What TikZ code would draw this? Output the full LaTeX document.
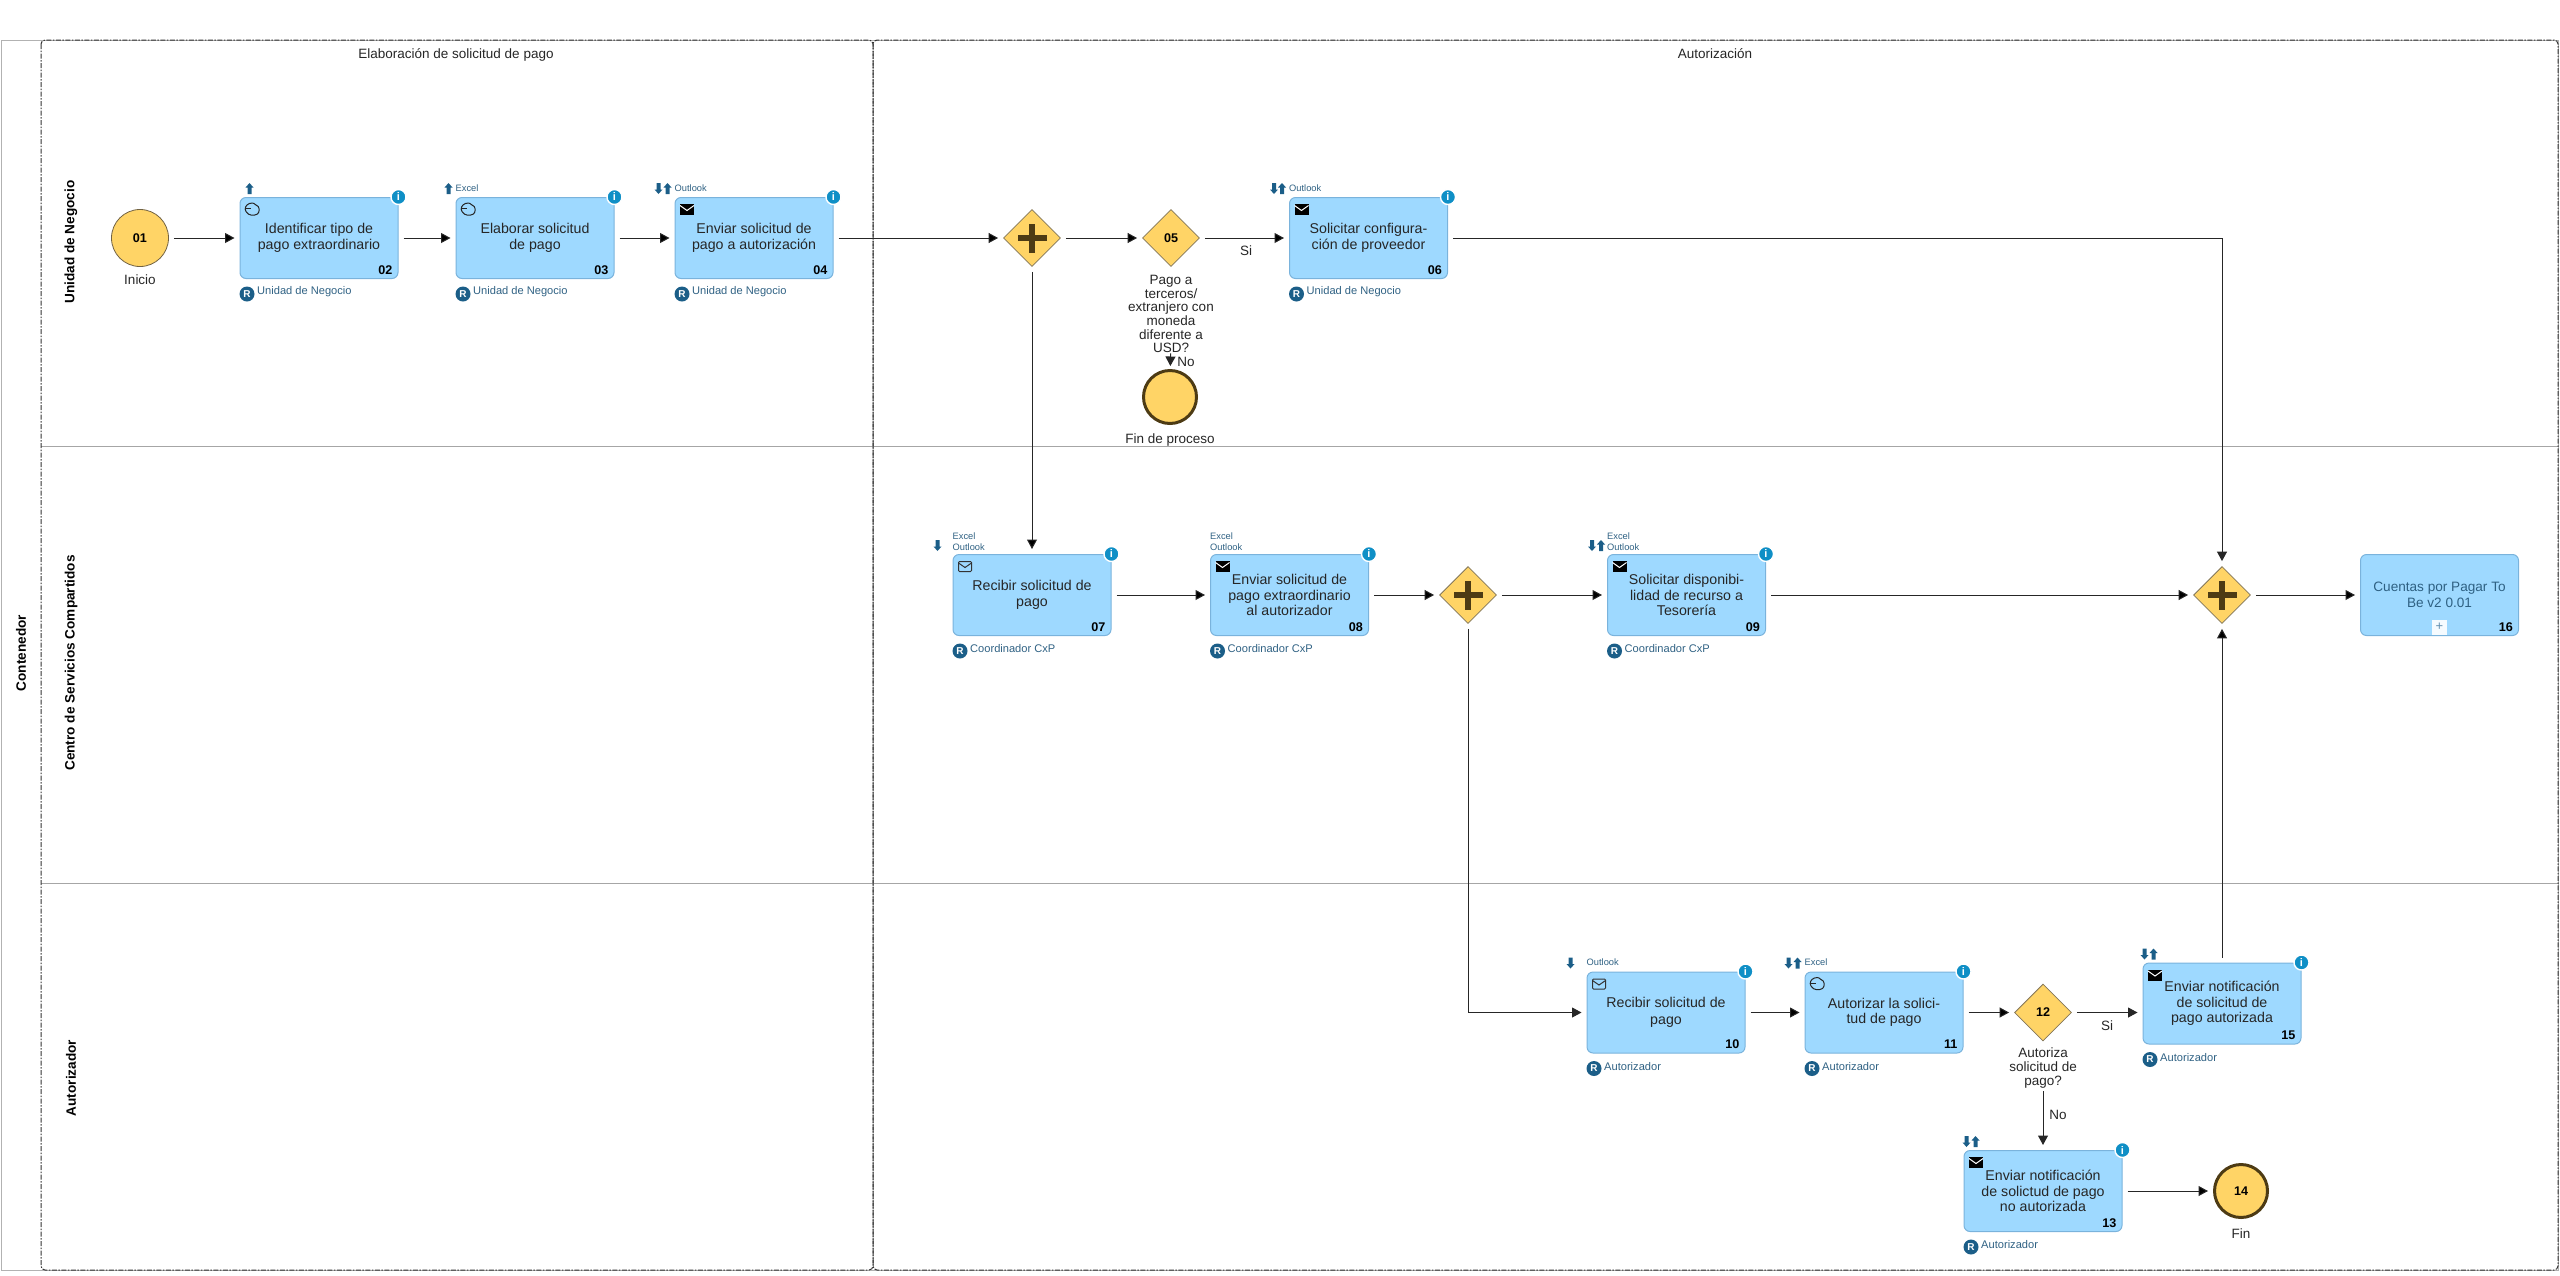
\documentclass[tikz,border=0pt]{standalone}
\usepackage{fontspec}
\setmainfont{Liberation Sans}
\usetikzlibrary{arrows.meta,shapes.geometric,calc}
\definecolor{tareaazul}{HTML}{9ED9FF}
\definecolor{tareaborde}{HTML}{7AB3DC}
\definecolor{amarillo}{HTML}{FFD466}
\definecolor{cafe}{HTML}{4D3B14}
\definecolor{rolazul}{HTML}{2F6183}
\definecolor{badgeazul}{HTML}{1B5E88}
\definecolor{infoazul}{HTML}{0F8FC6}
\tikzset{
	tarea/.style={draw=tareaborde, line width=1pt, fill=tareaazul, rounded corners=6pt, minimum width=158pt, minimum height=81pt, inner sep=0pt, align=center, text=black!85, font=\fontsize{14.2}{15.6}\selectfont},
	numero/.style={font=\bfseries\fontsize{12.6}{14}\selectfont, inner sep=0pt},
	rol/.style={anchor=west, inner sep=0pt, text=rolazul, font=\fontsize{11.1}{13}\selectfont},
	rbadge/.style={circle, fill=badgeazul, text=white, minimum size=15pt, inner sep=0pt, font=\bfseries\fontsize{10}{10}\selectfont},
	infobadge/.style={circle, draw=white, line width=1.4pt, fill=infoazul, text=white, minimum size=15pt, inner sep=0pt, font=\bfseries\fontsize{11}{11}\selectfont},
	herr/.style={inner sep=0pt, align=left, text=rolazul, font=\fontsize{9.3}{11}\selectfont},
	compuerta/.style={diamond, aspect=1, draw=cafe!70, line width=.8pt, fill=amarillo, minimum size=57pt, inner sep=0pt, font=\bfseries\fontsize{12.6}{14}\selectfont},
	inicio/.style={circle, draw=cafe!80, line width=.8pt, fill=amarillo, minimum size=57pt, inner sep=0pt, font=\bfseries\fontsize{12.6}{14}\selectfont},
	fin/.style={circle, draw=cafe, line width=3pt, fill=amarillo, minimum size=53pt, inner sep=0pt, font=\bfseries\fontsize{12.6}{14}\selectfont},
	etiq/.style={inner sep=0pt, align=center, text=black!85, font=\fontsize{13.5}{13.7}\selectfont},
	carril/.style={rotate=90, inner sep=0pt, font=\bfseries\fontsize{13.6}{15}\selectfont},
	fase/.style={draw=black!80, line width=1pt, rounded corners=4pt, dash pattern=on 5pt off 1.5pt on 1.5pt off 1.5pt},
	flujo/.style={-{Triangle[length=9.5pt,width=10pt]}, draw=black!85, line width=1pt, shorten >=5pt, shorten <=5pt},
	pics/sobrelleno/.style={code={
		\fill[black] (-7,-5.5) rectangle (7,5.5);
		\draw[white, line width=1pt] (-7,-4) -- (0,1) -- (7,-4);}},
	pics/sobreabierto/.style={code={
		\draw[black!80, line width=1pt, rounded corners=1pt] (-6.5,-5) rectangle (6.5,5);
		\draw[black!80, line width=1pt] (-6.5,-3.5) -- (0,1) -- (6.5,-3.5);}},
	pics/mano/.style={code={
		\draw[black!85, line width=1pt] (-6,2) .. controls (-8,-1) and (-6,-5) .. (-2.5,-6) .. controls (1,-7) and (3,-6) .. (4,-4.5) .. controls (8,-3.5) and (8,2.5) .. (5.5,4.5) .. controls (2,6.5) and (-3.5,6.5) .. (-6,2);
		\draw[black!85, line width=.8pt] (-6,-1) -- (-1.5,-1);}},
	pics/subir/.style={code={
		\fill[badgeazul] (0,-5.5) -- (4,-1) -- (2,-1) -- (2,5.5) -- (-2,5.5) -- (-2,-1) -- (-4,-1) -- cycle;}},
	pics/bajar/.style={code={
		\fill[badgeazul] (0,5.5) -- (4,1) -- (2,1) -- (2,-5.5) -- (-2,-5.5) -- (-2,1) -- (-4,1) -- cycle;}},
	pics/cruz/.style={code={
		\fill[cafe] (-14.5,-2.7) rectangle (14.5,2.7);
		\fill[cafe] (-2.7,-14.5) rectangle (2.7,14.5);}},
}
\newcommand{\tareanodo}[7]{
	\node[tarea] (#1) at (#2,#3) {\vspace*{3pt}#4};
	\node[numero, anchor=south east] (#1-num) at ($(#1.south east)+(-6,-4.5)$) {#5};
	\node[infobadge] (#1-info) at (#1.north east) {i};
	\node[rbadge] (#1-r) at ($(#1.south west)+(7.5,15)$) {R};
	\node[rol] (#1-rol) at ($(#1.south west)+(17.5,13)$) {#6};
	\pic at ($(#1.north west)+(12.5,12.5)$) {#7};
}

\begin{document}
\begin{tikzpicture}[x=1pt, y=-1pt]
	\useasboundingbox (0,0) rectangle (2560,1275);

	% contenedor, carriles y fases
	\draw[black!30, line width=1pt] (1,40) rectangle (2558,1270);
	\draw[black!35, line width=1pt] (41,446.5) -- (2558,446.5) (41,883) -- (2558,883);
	\draw[fase] (41,40) rectangle (873,1270);
	\draw[fase] (873,40) rectangle (2558,1270);
	\node[carril] (cont) at (21,653) {Contenedor};
	\node[carril] (c1) at (71,242) {Unidad de Negocio};
	\node[carril] (c2) at (71,663) {Centro de Servicios Compartidos};
	\node[carril] (c3) at (71,1078) {Autorizador};
	\node[etiq] (f1) at (456,55) {Elaboración de solicitud de pago};
	\node[etiq] (f2) at (1715,54) {Autorización};

	% eventos y compuertas
	\node[inicio] (e01) at (140,238) {01};
	\node[etiq] (e01-lab) at (140,280) {Inicio};
	\node[compuerta] (g1) at (1032,238) {};
	\pic at (g1) {cruz};
	\node[compuerta] (g05) at (1171,238) {05};
	\node[etiq, anchor=north] (g05-lab) at (1171,275) {Pago a\\terceros/\\extranjero con\\moneda\\diferente a\\USD?};
	\node[fin] (e1) at (1170,397) {};
	\node[etiq] (e1-lab) at (1170,440) {Fin de proceso};
	\node[compuerta] (g2) at (1468,595) {};
	\pic at (g2) {cruz};
	\node[compuerta] (g3) at (2222,595) {};
	\pic at (g3) {cruz};
	\node[compuerta] (g12) at (2043,1012.5) {12};
	\node[etiq, anchor=north] (g12-lab) at (2043,1048) {Autoriza\\solicitud de\\pago?};
	\node[fin] (e14) at (2241,1191) {14};
	\node[etiq] (e14-lab) at (2241,1234) {Fin};

	% tareas
	\tareanodo{t02}{319}{238}{Identificar tipo de\\pago extraordinario}{02}{Unidad de Negocio}{mano}
	\tareanodo{t03}{535}{238}{Elaborar solicitud\\de pago}{03}{Unidad de Negocio}{mano}
	\tareanodo{t04}{754}{238}{Enviar solicitud de\\pago a autorización}{04}{Unidad de Negocio}{sobrelleno}
	\tareanodo{t06}{1368.5}{238}{Solicitar configura-\\ción de proveedor}{06}{Unidad de Negocio}{sobrelleno}
	\tareanodo{t07}{1032}{595}{Recibir solicitud de\\[1pt]pago}{07}{Coordinador CxP}{sobreabierto}
	\tareanodo{t08}{1289.5}{595}{Enviar solicitud de\\pago extraordinario\\al autorizador}{08}{Coordinador CxP}{sobrelleno}
	\tareanodo{t09}{1686.5}{595}{Solicitar disponibi-\\lidad de recurso a\\Tesorería}{09}{Coordinador CxP}{sobrelleno}
	\tareanodo{t10}{1666}{1012.5}{Recibir solicitud de\\[1pt]pago}{10}{Autorizador}{sobreabierto}
	\tareanodo{t11}{1884}{1012.5}{Autorizar la solici-\\tud de pago}{11}{Autorizador}{mano}
	\tareanodo{t15}{2222}{1003.5}{Enviar notificación\\de solicitud de\\pago autorizada}{15}{Autorizador}{sobrelleno}
	\tareanodo{t13}{2043}{1191}{Enviar notificación\\de solictud de pago\\no autorizada}{13}{Autorizador}{sobrelleno}
	\node[tarea, text=rolazul, font=\fontsize{13.6}{15.6}\selectfont] (t16) at (2439.5,595) {Cuentas por Pagar To\\Be v2 0.01};
	\node[numero, anchor=south east] (t16-num) at ($(t16.south east)+(-6,-4.5)$) {16};
	\node[fill=white!90!tareaazul, minimum size=15pt, inner sep=0pt, text=tareaborde!80!black, font=\fontsize{13}{13}\selectfont] (t16-mas) at (2439.5,627) {+};

	% flechas y herramientas
	\foreach \t/\dx in {t02/10, t03/-7, t04/-7, t06/-7, t09/-6, t11/-7, t15/11, t13/12}
		\pic at ($(\t.north west)+(\dx,-8.5)$) {subir};
	\foreach \t/\dx in {t04/-16, t06/-15, t07/-15, t09/-15, t10/-16, t11/-16, t15/2, t13/3}
		\pic at ($(\t.north west)+(\dx,-8.5)$) {bajar};
	\foreach \t/\h in {t03/Excel, t04/Outlook, t06/Outlook, t10/Outlook, t11/Excel}
		\node[herr, anchor=west] (\t-herr) at ($(\t.north west)+(0,-9)$) {\h};
	\foreach \t in {t07, t08, t09}
		\node[herr, anchor=south west] (\t-herr) at ($(\t.north west)+(0,-3)$) {Excel\\Outlook};

	% conectores
	\path[flujo]
	(e01) edge (t02)
	(t02) edge (t03)
	(t03) edge (t04)
	(t04) edge (g1)
	(g1) edge (g05)
	(g05) edge (t06)
	(g1) edge (t07)
	(t07) edge (t08)
	(t08) edge (g2)
	(g2) edge (t09)
	(t09) edge (g3)
	(g3) edge (t16)
	(t10) edge (t11)
	(t11) edge (g12)
	(t15) edge (g3)
	(t13) edge (e14);
	\draw[flujo, shorten <=0pt, shorten >=3pt] (g05-lab) -- (e1);
	\draw[flujo] (t06) -| (g3);
	\draw[flujo] (g2) |- (t10);
	\draw[flujo] (g12) -- (g12 -| t15.west);
	\draw[flujo, shorten <=3pt] (g12-lab) -- (t13);
	\node[etiq] (si1) at (1246,251) {Si};
	\node[etiq] (si2) at (2107,1026) {Si};
	\node[etiq] (no1) at (2058,1115) {No};
	\node[etiq] (no2) at (1186,362) {No};
\end{tikzpicture}
\end{document}
